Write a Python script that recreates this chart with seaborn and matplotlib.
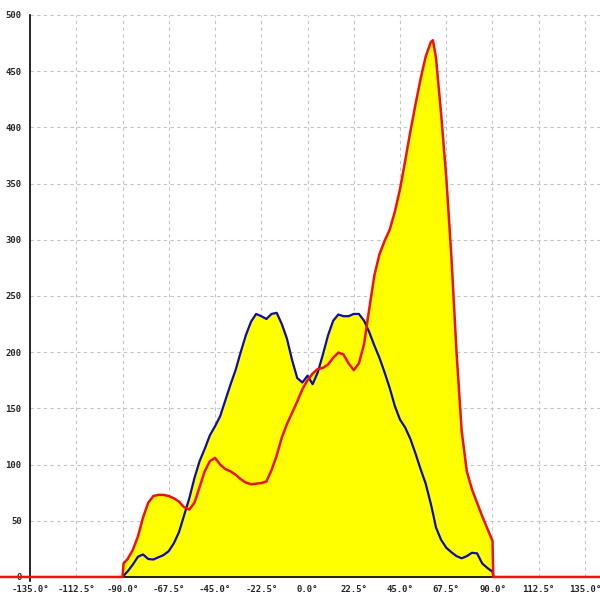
import numpy as np
import pandas as pd
import matplotlib
matplotlib.use("Agg")
import matplotlib.pyplot as plt
import seaborn as sns

# ---- data ----
angles = [-90, -89.5, -87.5, -85, -82.5, -80, -77.5, -75, -72.5, -70, -67.5, -65, -62.5, -60,
          -57.5, -55, -52.5, -50, -47.5, -45, -42.5, -40, -37.5, -35, -32.5, -30, -27.5, -25,
          -22.5, -20, -17.5, -15, -12.5, -10, -7.5, -5, -2.5, 0, 2.5, 5, 7.5, 10, 12.5, 15,
          17.5, 20, 22.5, 25, 27.5, 30, 32.5, 35, 37.5, 40, 42.5, 45, 47.5, 50, 52.5, 55,
          57.5, 60, 61, 62.5, 65, 67.5, 70, 72.5, 75, 77.5, 80, 82.5, 85, 87.5, 90, 90.4]

blue_vals = [0, 1, 5, 11, 18, 20, 16, 15.5, 17.5, 19.5, 23, 30, 40, 55,
             70, 88, 103, 114, 126, 134, 143, 157, 171, 184, 200, 215, 227, 234,
             232, 229.5, 234, 235, 225, 212, 193, 177, 173, 179, 171.5, 182, 198, 215, 228, 233.5,
             232, 232, 234, 234, 228, 218, 206, 195, 182, 168, 152, 140, 133, 123, 110, 96,
             83, 65, 57, 44, 33, 26, 22, 18.5, 16.6, 18.5, 21.5, 21, 12, 8, 4.7, 0]

red_vals = [0, 12, 16, 24, 36, 53, 66, 72, 73, 73, 72, 70, 67, 62,
            60, 66, 80, 94, 103, 106, 100, 96, 94, 91, 87, 84, 82.5, 83,
            83.5, 85, 95, 108, 124, 136, 146, 156, 167, 175, 181, 185, 186, 189, 195, 199.6,
            198, 190, 184, 190, 207, 238, 268, 287, 299, 309, 325, 345, 370, 396, 420, 443,
            463, 476, 477.5, 462, 412, 356, 285, 200, 130, 94, 78, 66, 54, 43, 32, 0]

baseline_angles = [-150, -90]
baseline_vals = [0, 0]
tail_angles = [90.4, 150]
tail_vals = [0, 0]

x_ticks = [-135.0, -112.5, -90.0, -67.5, -45.0, -22.5, 0.0, 22.5, 45.0, 67.5, 90.0, 112.5, 135.0]
y_ticks = [0, 50, 100, 150, 200, 250, 300, 350, 400, 450, 500]

# ---- plot ----
sns.set_style("white")
plt.rcParams['font.family'] = ['DejaVu Sans Mono', 'DejaVu Sans']

fig = plt.figure(figsize=(6, 6), dpi=100)
ax = fig.add_axes([0, 0, 1, 1])
ax.set_facecolor("white")

xmin, xmax = -149.6, 142.3
ymin, ymax = -20.5, 513.3
ax.set_xlim(xmin, xmax)
ax.set_ylim(ymin, ymax)

# grid
grid_kw = dict(color="#c4c4c4", linestyle=(0, (3, 3)), linewidth=0.8, zorder=0)
ax.hlines(y_ticks[1:], x_ticks[0], xmax, **grid_kw)
ax.vlines(x_ticks[1:], 0, 500, **grid_kw)

df = pd.DataFrame({"angle": angles, "blue": blue_vals, "red": red_vals})
top = np.maximum(df["blue"].to_numpy(), df["red"].to_numpy())
ax.fill_between(df["angle"], 0, top, color="#ffff00", linewidth=0, zorder=1)

red_x = baseline_angles + angles + tail_angles
red_y = baseline_vals + red_vals + tail_vals
sns.lineplot(x=df["angle"], y=df["blue"], ax=ax, color="#0c0ca8", linewidth=1.6,
             estimator=None, sort=False, zorder=3)
sns.lineplot(x=red_x, y=red_y, ax=ax, color="#ee1111", linewidth=1.8,
             estimator=None, sort=False, zorder=4)

# spines
for s in ["top", "right"]:
    ax.spines[s].set_visible(False)
ax.spines["left"].set_position(("data", -135))
ax.spines["left"].set_bounds(-4, 500)
ax.spines["bottom"].set_position(("data", 0))
ax.spines["left"].set_color("black")
ax.spines["bottom"].set_color("black")
ax.spines["left"].set_linewidth(1.2)
ax.spines["bottom"].set_linewidth(1.2)
ax.spines["left"].set_zorder(2)

ax.set_xticks(x_ticks)
ax.set_xticklabels([f"{v:.1f}°" for v in x_ticks])
ax.set_yticks(y_ticks)
ax.set_yticklabels([str(v) for v in y_ticks])
ax.tick_params(axis="both", direction="out", length=4, width=1, color="black",
               labelsize=6.5, pad=2)
for lab in ax.get_xticklabels() + ax.get_yticklabels():
    lab.set_fontweight("bold")
ax.set_xlabel("")
ax.set_ylabel("")

fig.savefig("out.png", dpi=100)
